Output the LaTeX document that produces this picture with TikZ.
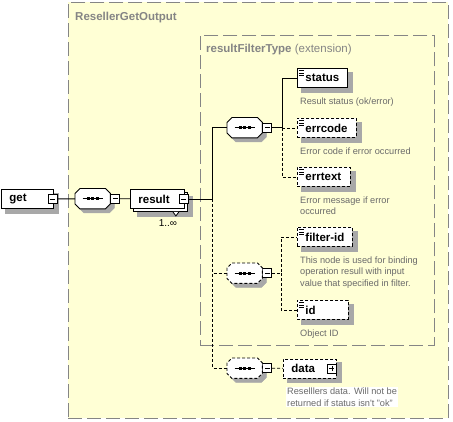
\documentclass[tikz,border=0pt]{standalone}
\usepackage{fontspec}
\setmainfont{Liberation Sans}
\usetikzlibrary{positioning,calc}
\definecolor{PaleYellow}{HTML}{FFFFD5}
\definecolor{FrameGray}{HTML}{858585}
\definecolor{NoteGray}{HTML}{6A6A6A}
\definecolor{ShadeGray}{HTML}{A8A8A8}
\pgfdeclarelayer{frames}
\pgfdeclarelayer{shades}
\pgfsetlayers{frames,shades,main}
% octagon of a compositor node, shifted by (#2,#3)
\newcommand\octpath[3]{([shift={(#2+5,#3)}]#1.north west) -- ([shift={(#2-5,#3)}]#1.north east)
  -- ([shift={(#2,#3+5)}]#1.north east) -- ([shift={(#2,#3-5)}]#1.south east)
  -- ([shift={(#2-5,#3)}]#1.south east) -- ([shift={(#2+5,#3)}]#1.south west)
  -- ([shift={(#2,#3-5)}]#1.south west) -- ([shift={(#2,#3+5)}]#1.north west) -- cycle}

\begin{document}
\begin{tikzpicture}[x=1pt, y=-1pt,
  frame/.style={draw=FrameGray, fill=PaleYellow, line width=0.8pt, dash pattern=on 14pt off 5pt, anchor=north west, inner sep=0pt},
  title/.style={text=FrameGray, font=\fontsize{11.5}{13}\selectfont\bfseries, anchor=north west, inner sep=0pt},
  elem/.style={draw=black, fill=white, line width=0.9pt, anchor=north west, align=left, inner xsep=8pt, inner ysep=0pt, minimum height=19pt, font=\fontsize{11.5}{13}\selectfont\bfseries},
  opt/.style={dash pattern=on 3pt off 2pt},
  simple/.style={path picture={
      \foreach \k in {2,4.5,7}
        \draw[black, solid, line width=0.7pt] ([shift={(1.5,\k)}]path picture bounding box.north west) -- ++(5,0);}},
  compo/.style={minimum width=35pt, minimum height=20pt, inner sep=0pt, anchor=north west},
  shadow/.style={draw=ShadeGray, fill=ShadeGray, line width=0.5pt},
  toggle/.style={draw=black, fill=white, solid, line width=0.8pt, minimum size=9pt, inner sep=0pt,
      path picture={\draw[black, solid, line width=0.8pt] ([xshift=2pt]path picture bounding box.west) -- ([xshift=-2pt]path picture bounding box.east);}},
  expand/.style={toggle,
      path picture={\draw[black, solid, line width=0.8pt] ([xshift=2pt]path picture bounding box.west) -- ([xshift=-2pt]path picture bounding box.east);
        \draw[black, solid, line width=0.8pt] ([yshift=2pt]path picture bounding box.south) -- ([yshift=-2pt]path picture bounding box.north);}},
  note/.style={text=NoteGray, font=\fontsize{9.2}{11.5}\selectfont, align=left, anchor=north west, inner sep=0pt},
  link/.style={line width=0.9pt},
  optlink/.style={link, dash pattern=on 3pt off 2pt}]
\useasboundingbox (0,0) rectangle (453,421);

% frames
\begin{pgfonlayer}{frames}
\node[frame, minimum width=380pt, minimum height=416pt] (outer) at (68,2) {};
\node[frame, minimum width=234pt, minimum height=310pt] (inner) at (200,35) {};
\end{pgfonlayer}
\node[title] (outertitle) at ([shift={(7,10)}]outer.north west) {ResellerGetOutput};
\node[title] (innertitle) at ([shift={(6,9)}]inner.north west) {resultFilterType \mdseries(extension)};

% left chain
\node[elem, text width=36pt] (get) at (1,189) {get};
\node[toggle] (getm) at ([xshift=-1pt]get.east) {};
\node[compo] (seq1) at (75,188.5) {};
\node[toggle, anchor=west] (seq1m) at (seq1.east) {};
\node[elem, text width=38pt] (result) at (130,189) {result};
\node[toggle] (resultm) at ([xshift=-1pt]result.east) {};
\node[font=\fontsize{10}{12}\selectfont, inner sep=0pt] (resultcard) at ([shift={(-17,14)}]result.south east) {1..∞};
\coordinate (trunk) at ([xshift=24pt]resultm.east);

% compositors
\node[compo] (seq2) at (227,117.5) {};
\node[toggle, anchor=west] (seq2m) at (seq2.east) {};
\node[compo] (seq3) at (227,263) {};
\node[toggle, anchor=west] (seq3m) at (seq3.east) {};
\node[compo] (seq4) at (227,358) {};
\node[toggle, anchor=west] (seq4m) at (seq4.east) {};
\coordinate (fork2) at ([xshift=10pt]seq2m.east);
\coordinate (fork3) at ([xshift=9pt]seq3m.east);

% elements
\node[elem, simple, text width=34pt] (status) at (297,68) {status};
\node[elem, simple, opt, text width=43pt] (errcode) at (297,118) {errcode};
\node[elem, simple, opt, text width=37pt] (errtext) at (297,167) {errtext};
\node[elem, simple, opt, text width=39pt] (filterid) at (297,227) {filter-id};
\node[elem, simple, opt, text width=35pt] (id) at (297,300) {id};
\node[elem, opt, text width=37pt] (data) at (283,358.5) {data};
\node[expand] (datap) at ([xshift=-5pt]data.east) {};

% shadows
\begin{pgfonlayer}{shades}
\foreach \n in {get,status,errcode,errtext,filterid,id,data}
  \path[shadow] ([shift={(4,4)}]\n.north west) rectangle ([shift={(4,4)}]\n.south east);
\path[shadow] ([shift={(7,7)}]result.north west) rectangle ([shift={(7,7)}]result.south east);
\draw[line width=0.9pt, fill=white] ([shift={(3,3)}]result.north west) rectangle ([shift={(3,3)}]result.south east);
\draw[line width=0.8pt, fill=white] ([shift={(-12,3)}]result.south east) -- ++(3,4) -- ++(3,-4);
\foreach \n in {seq1,seq2,seq3,seq4}
  \path[shadow] \octpath{\n}{4}{4};
\end{pgfonlayer}

% compositor outlines
\foreach \n/\s in {seq1/solid,seq2/solid,seq3/opt,seq4/opt} {
  \draw[\s, line width=0.9pt, fill=white] \octpath{\n}{0}{0};
  \draw[line width=1pt] ([xshift=-10pt]\n.center) -- ([xshift=10pt]\n.center);
  \foreach \d in {-4.5,0,4.5}
    \fill ([shift={(\d-1.6,-1.6)}]\n.center) rectangle ([shift={(\d+1.6,1.6)}]\n.center);
}

% notes
\node[note] (statusnote) at ([shift={(3,9.5)}]status.south west) {Result status (ok/error)};
\node[note] (errcodenote) at ([shift={(3,9.5)}]errcode.south west) {Error code if error occurred};
\node[note] (errtextnote) at ([shift={(3,9.5)}]errtext.south west) {Error message if error\\occurred};
\node[note] (filteridnote) at ([shift={(3,9.5)}]filterid.south west) {This node is used for binding\\operation resull with input\\value that specified in filter.};
\node[note] (idnote) at ([shift={(3,9.5)}]id.south west) {Object ID};
\node[note, fill=white, inner sep=1pt] (datanote) at ([shift={(3,8.5)}]data.south west) {Reselllers data. Will not be\\returned if status isn\textquotesingle t "ok"};

% connectors
\draw[link] (getm) -- (seq1);
\draw[link] (seq1m) -- (result);
\draw[link] (resultm) -- (trunk);
\draw[link] (trunk) |- (seq2);
\draw[optlink] (trunk) |- (seq3);
\draw[optlink] (trunk) |- (seq4);
\draw[link] (seq2m) -- (fork2) |- (status);
\draw[optlink] (fork2) |- (errcode);
\draw[optlink] (fork2) |- (errtext);
\draw[optlink] (seq3m) -- (fork3) |- (filterid);
\draw[optlink] (fork3) |- (id);
\draw[optlink] (seq4m) -- (data);
\end{tikzpicture}
\end{document}
